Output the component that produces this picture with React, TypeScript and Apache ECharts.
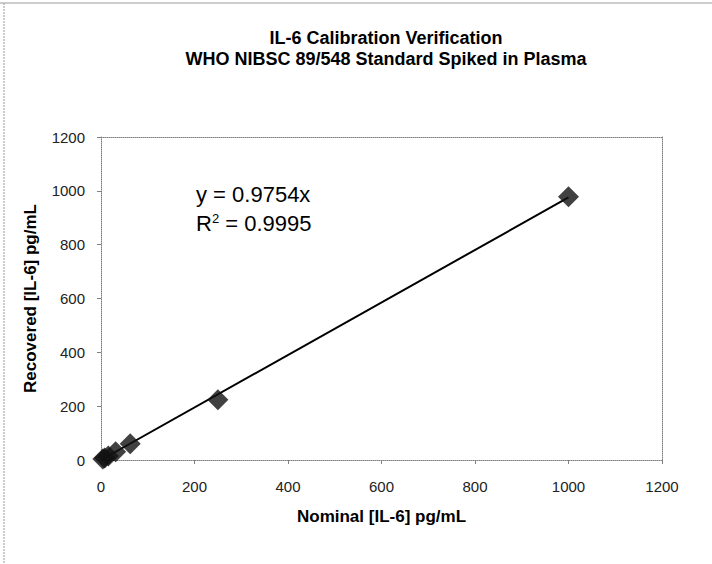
import React, { useEffect, useRef } from "react";
import * as echarts from "echarts";

const nominal = [3.9, 7.8, 15.6, 31.25, 62.5, 250, 1000];
const recovered = [3.6, 7.5, 15.1, 30.2, 60.8, 224, 978];
const trendX = [0, 1000];
const trendY = [0, 975.4];
const titleLines = ["IL-6 Calibration Verification", "WHO NIBSC 89/548 Standard Spiked in Plasma"];
const equationText = "y = 0.9754x";
const r2Text = "0.9995";

export default function App() {
  const ref = useRef<HTMLDivElement>(null);
  useEffect(() => {
    document.body.style.margin = "0";
    const chart = echarts.init(ref.current!, null, { renderer: "svg" });
    const font = "'Liberation Sans', Arial, sans-serif";
    const dotted = { color: "#808080", width: 1, type: "dotted" as const };
    const fmt = (v: number) => String(v);
    chart.setOption({
      animation: false,
      backgroundColor: "#fff",
      textStyle: { fontFamily: font },
      grid: { left: 101, right: 50, top: 137, bottom: 104 },
      xAxis: [
        {
          type: "value",
          min: 0,
          max: 1200,
          interval: 200,
          name: "Nominal [IL-6] pg/mL",
          nameLocation: "middle",
          nameGap: 48,
          nameTextStyle: { fontSize: 17, fontWeight: "bold", color: "#000", fontFamily: font },
          axisLine: { show: true, lineStyle: dotted },
          axisTick: { show: true, length: 4, lineStyle: { color: "#808080" } },
          axisLabel: { fontSize: 15, color: "#222", margin: 19, fontFamily: font, formatter: fmt },
          splitLine: { show: false },
        },
        {
          type: "value",
          position: "top",
          min: 0,
          max: 1200,
          axisLine: { show: true, onZero: false, lineStyle: dotted },
          axisTick: { show: false },
          axisLabel: { show: false },
          splitLine: { show: false },
        },
      ],
      yAxis: [
        {
          type: "value",
          min: 0,
          max: 1200,
          interval: 200,
          name: "Recovered [IL-6] pg/mL",
          nameLocation: "middle",
          nameGap: 62,
          nameTextStyle: { fontSize: 17, fontWeight: "bold", color: "#000", fontFamily: font },
          axisLine: { show: true, lineStyle: dotted },
          axisTick: { show: true, length: 4, lineStyle: { color: "#808080" } },
          axisLabel: { fontSize: 15, color: "#222", margin: 16, fontFamily: font, formatter: fmt },
          splitLine: { show: false },
        },
        {
          type: "value",
          position: "right",
          min: 0,
          max: 1200,
          axisLine: { show: true, onZero: false, lineStyle: dotted },
          axisTick: { show: false },
          axisLabel: { show: false },
          splitLine: { show: false },
        },
      ],
      title: {
        text: titleLines.join("\n"),
        left: 381,
        textAlign: "center",
        top: 22,
        textStyle: { fontSize: 18, fontWeight: "bold", color: "#000", lineHeight: 21, fontFamily: font },
      },
      graphic: [
        { type: "line", shape: { x1: 0, y1: 3, x2: 712, y2: 3 }, style: { stroke: "#9a9a9a", lineWidth: 1 } },
        { type: "line", shape: { x1: 4, y1: 3, x2: 4, y2: 564 }, style: { stroke: "#9a9a9a", lineWidth: 1, lineDash: [2, 1] } },
        {
          type: "text",
          left: 196,
          top: 183,
          style: {
            text: equationText,
            fontSize: 22,
            fill: "#000",
            fontFamily: font,
          },
        },
        {
          type: "text",
          left: 196,
          top: 212,
          style: {
            text: "R{sup|2} = " + r2Text,
            fontSize: 22,
            fill: "#000",
            fontFamily: font,
            rich: {
              sup: { fontSize: 13, verticalAlign: "top", padding: [0, 0, 10, 0], fontFamily: font },
            },
          },
        },
      ],
      series: [
        {
          type: "line",
          data: trendX.map((x, i) => [x, trendY[i]]),
          showSymbol: false,
          symbol: "none",
          lineStyle: { color: "#000", width: 2 },
          silent: true,
          z: 1,
        },
        {
          type: "scatter",
          data: nominal.map((x, i) => [x, recovered[i]]),
          symbol: "diamond",
          symbolSize: 21,
          itemStyle: { color: "#111" },
          z: 2,
        },
      ],
    });
    return () => chart.dispose();
  }, []);
  return <div ref={ref} style={{ width: 712, height: 564 }} />;
}
